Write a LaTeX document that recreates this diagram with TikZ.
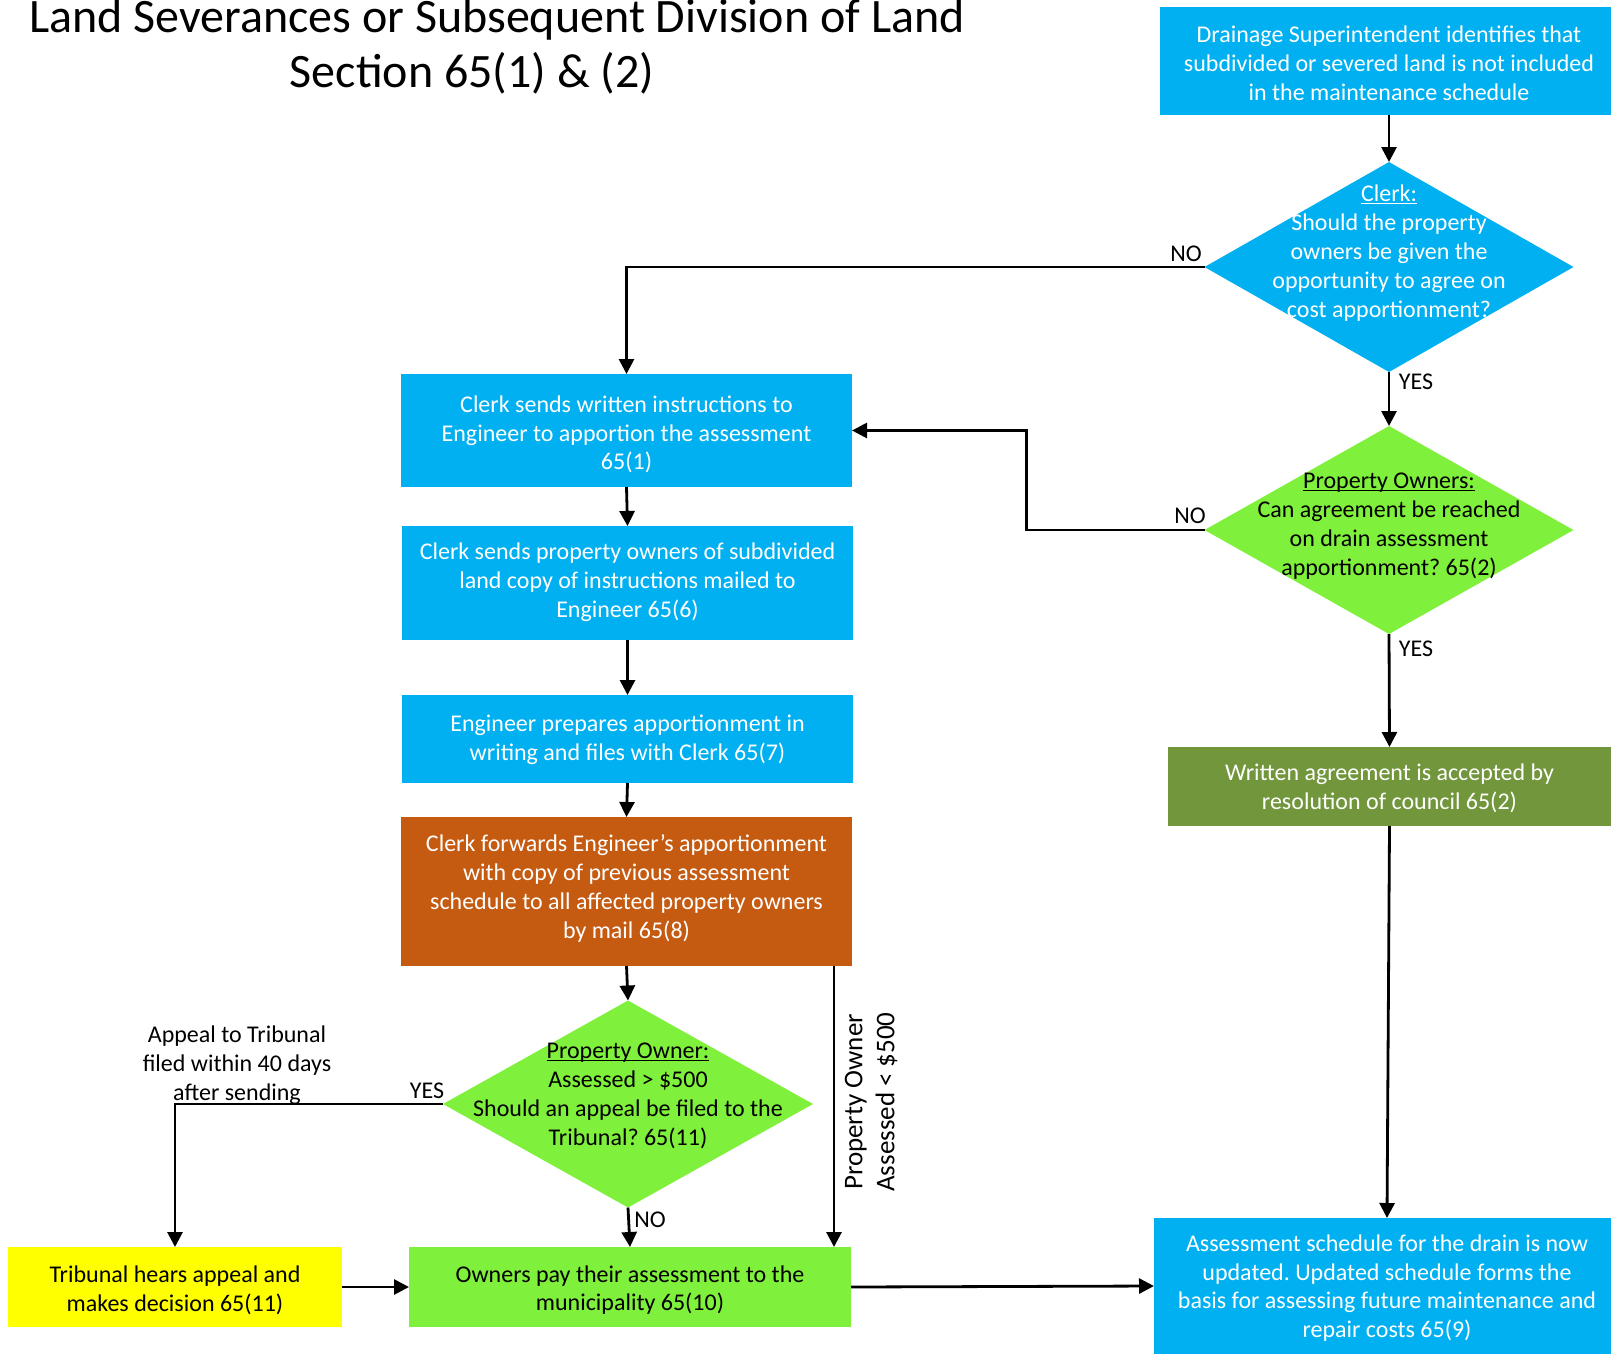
\documentclass[tikz,border=0pt]{standalone}
\usepackage{fontspec}
\setmainfont{Carlito}
\frenchspacing
\usetikzlibrary{arrows.meta,shapes.geometric}
\definecolor{cblue}{HTML}{00B0F0}
\definecolor{cgreen}{HTML}{7FF03B}
\definecolor{cdgreen}{HTML}{71963B}
\definecolor{corange}{HTML}{C55A11}
\definecolor{cyellow}{HTML}{FFFF00}
\newcommand\myul[1]{\setbox0=\hbox{#1}\rlap{\rule[-2.4pt]{\wd0}{1.4pt}}\box0}
\begin{document}
\begin{tikzpicture}[x=1pt,y=-1pt,
  every node/.style={font=\fontsize{24}{28.8}\selectfont\frenchspacing, inner sep=0pt, outer sep=0pt},
  boxn/.style={rectangle, fill=cblue},
  wtxt/.style={align=center, text=white},
  ktxt/.style={align=center, text=black},
  dia/.style={diamond, fill=cgreen},
  lbl/.style={text=black},
  arr/.style={line width=2.8pt, -{Triangle[length=15pt,width=15pt]}}]
\useasboundingbox (0,0) rectangle (1611,1354);
\clip (0,0) rectangle (1611,1354);
% title
\node[anchor=base, font=\fontsize{48}{58}\selectfont] (t1) at (497,33) {Land Severances or Subsequent Division of Land};
\node[anchor=base, font=\fontsize{48}{58}\selectfont] (t2) at (472,87) {Section 65(1) \& (2)};
% shapes
\node[boxn, minimum width=458pt, minimum height=108pt] (b1) at (1389,61) {};
\node[dia, fill=cblue, minimum width=369pt, minimum height=210pt] (d1) at (1389,267) {};
\node[dia, minimum width=369pt, minimum height=208pt] (d2) at (1389,530) {};
\node[boxn, fill=cdgreen, minimum width=443pt, minimum height=79pt] (b6) at (1389.5,786.5) {};
\node[boxn, minimum width=466pt, minimum height=136pt] (b7) at (1387,1286) {};
\node[boxn, minimum width=451pt, minimum height=113pt] (b2) at (626.5,430.5) {};
\node[boxn, minimum width=451pt, minimum height=114pt] (b3) at (627.5,583) {};
\node[boxn, minimum width=451pt, minimum height=88pt] (b4) at (627.5,739) {};
\node[boxn, fill=corange, minimum width=451pt, minimum height=149pt] (b5) at (626.5,891.5) {};
\node[dia, minimum width=370pt, minimum height=207pt] (d3) at (628,1104) {};
\node[boxn, fill=cyellow, minimum width=334pt, minimum height=80pt] (b8) at (175,1287) {};
\node[boxn, fill=cgreen, minimum width=442pt, minimum height=80pt] (b9) at (630,1287) {};
% texts
\node[wtxt] (b1t) at ([yshift=-2pt]b1.center)
  {Drainage Superintendent identifies that\\subdivided or severed land is not included\\in the maintenance schedule};
\node[wtxt] (d1t) at (1389,253)
  {\myul{Clerk:}\\Should the property\\owners be given the\\opportunity to agree on\\cost apportionment?};
\node[ktxt] (d2t) at (1389,526)
  {\myul{Property Owners:}\\Can agreement be reached\\on drain assessment\\apportionment? 65(2)};
\node[wtxt] (b6t) at ([yshift=-2pt]b6.center)
  {Written agreement is accepted by\\resolution of council 65(2)};
\node[wtxt] (b7t) at ([yshift=-2pt]b7.center)
  {Assessment schedule for the drain is now\\updated. Updated schedule forms the\\basis for assessing future maintenance and\\repair costs 65(9)};
\node[wtxt] (b2t) at ([yshift=-4pt]b2.center)
  {Clerk sends written instructions to\\Engineer to apportion the assessment\\65(1)};
\node[wtxt] (b3t) at ([yshift=1pt]b3.center)
  {Clerk sends property owners of subdivided\\land copy of instructions mailed to\\Engineer 65(6)};
\node[wtxt] (b4t) at ([yshift=-1pt]b4.center)
  {Engineer prepares apportionment in\\writing and files with Clerk 65(7)};
\node[wtxt] (b5t) at ([yshift=3pt]b5.center)
  {Clerk forwards Engineer’s apportionment\\with copy of previous assessment\\schedule to all affected property owners\\by mail 65(8)};
\node[ktxt] (d3t) at (628,1096)
  {\myul{Property Owner:}\\Assessed > \$500\\Should an appeal be filed to the\\Tribunal? 65(11)};
\node[ktxt] (b8t) at ([yshift=-3pt]b8.center)
  {Tribunal hears appeal and\\makes decision 65(11)};
\node[ktxt] (b9t) at ([yshift=-3pt]b9.center)
  {Owners pay their assessment to the\\municipality 65(10)};
% labels
\node[lbl] (l1) at (1186,254) {NO};
\node[lbl] (l2) at (1416,382) {YES};
\node[lbl] (l3) at (1190,516) {NO};
\node[lbl] (l4) at (1416,649) {YES};
\node[lbl] (l5) at (427,1091) {YES};
\node[lbl] (l6) at (650,1220) {NO};
\node[lbl, align=center] (l7) at (237,1065) {Appeal to Tribunal\\filed within 40 days\\after sending};
\node[lbl, align=center, rotate=90, font=\fontsize{27}{32}\selectfont] (l8) at (871,1102) {Property Owner\\Assessed < \$500};
% connectors
\draw[arr] (b1.south) -- (d1.north);
\draw[arr] (d1.west) -| (b2.north);
\draw[arr] (d1.south) -- (d2.north);
\draw[arr] (d2.west) -- ++(-178,0) |- (b2.east);
\draw[arr] (d2.south) -- (b6.north);
\draw[arr] (b6.south) -- (b7.north);
\draw[arr] (b2.south) -- (b3.north);
\draw[arr] (b3.south) -- (b4.north);
\draw[arr] (b4.south) -- (b5.north);
\draw[arr] (b5.south) -- (d3.north);
\draw[arr] (d3.west) -| (b8.north);
\draw[arr] (d3.south) -- (b9.north);
\coordinate (r1) at ([xshift=-18pt]b5.south east);
\draw[arr] (r1) -- (r1 |- b9.north);
\draw[arr] (b8.east) -- (b9.west);
\draw[arr] (b9.east) -- (b7.west);
\end{tikzpicture}
\end{document}
